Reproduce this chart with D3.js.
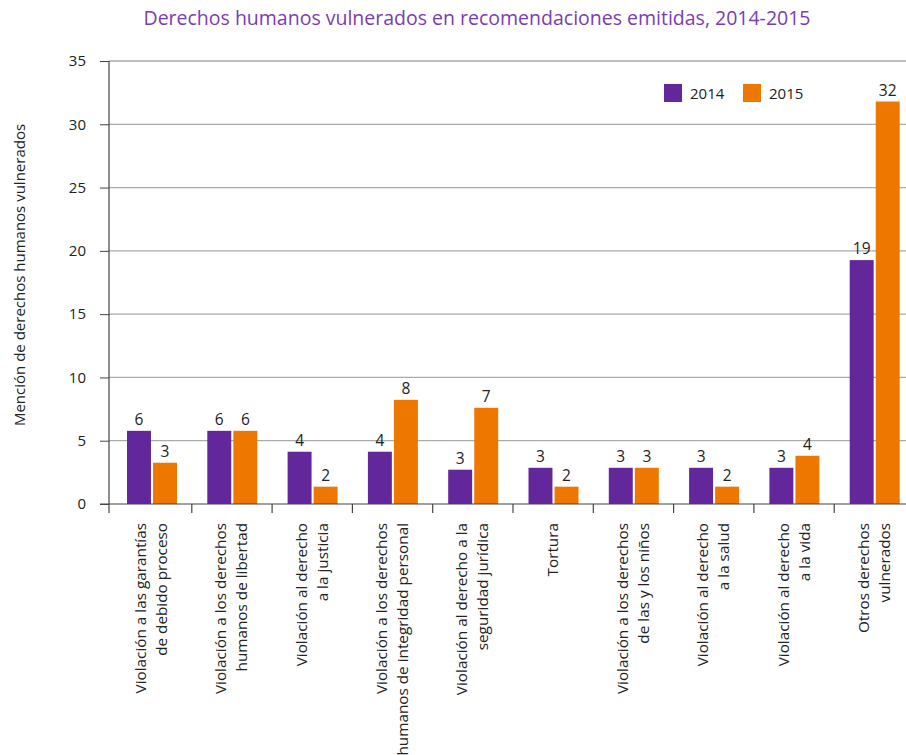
<!DOCTYPE html>
<html>
<head>
<meta charset="utf-8">
<script src="https://cdn.jsdelivr.net/npm/d3@7"></script>
<style>
  body { margin: 0; background: #fff; }
  text { font-family: "Open Sans", "DejaVu Sans", sans-serif; fill: #222; }
</style>
</head>
<body>
<script>
// categorías (líneas de la etiqueta)
var categories = [
  ["Violación a las garantías", "de debido proceso"],
  ["Violación a los derechos", "humanos de libertad"],
  ["Violación al derecho", "a la justicia"],
  ["Violación a los derechos", "humanos de integridad personal"],
  ["Violación al derecho a la", "seguridad jurídica"],
  ["Tortura"],
  ["Violación a los derechos", "de las y los niños"],
  ["Violación al derecho", "a la salud"],
  ["Violación al derecho", "a la vida"],
  ["Otros derechos", "vulnerados"]
];
var series = ["2014", "2015"];
var values2014 = [5.78, 5.78, 4.13, 4.13, 2.71, 2.86, 2.86, 2.86, 2.86, 19.27];
var values2015 = [3.26, 5.78, 1.37, 8.23, 7.6, 1.37, 2.86, 1.37, 3.81, 31.8];
var labels2014 = ["6", "6", "4", "4", "3", "3", "3", "3", "3", "19"];
var labels2015 = ["3", "6", "2", "8", "7", "2", "3", "2", "4", "32"];
var yTicks = [0, 5, 10, 15, 20, 25, 30, 35];

var colors = { "2014": "#62279b", "2015": "#ee7700" };

var svg = d3.select("body").append("svg").attr("width", 906).attr("height", 755);

var x0 = d3.scaleBand()
      .domain(d3.range(categories.length))
      .range([111.5, 914.5]);

var x1 = d3.scaleBand()
      .domain(series)
      .range([15.5, 65.5])
      .paddingInner(0.08);

var y = d3.scaleLinear().domain([0, 35]).range([504, 61]);

// título
svg.append("text")
      .attr("x", 477).attr("y", 25)
      .attr("text-anchor", "middle")
      .attr("font-size", "19.5px")
      .style("fill", "#7a3cb4")
      .text("Derechos humanos vulnerados en recomendaciones emitidas, 2014-2015");

// líneas de la cuadrícula
svg.selectAll("line.grid")
      .data(yTicks.filter(function (d) { return d > 0; }))
      .enter().append("line")
      .attr("class", "grid")
      .attr("x1", 109).attr("x2", 906)
      .attr("y1", function (d) { return y(d); })
      .attr("y2", function (d) { return y(d); })
      .attr("stroke", "#aaa")
      .attr("stroke-width", 1.3);

// eje y
var yAxis = svg.append("g")
      .attr("transform", "translate(109,0)")
      .call(d3.axisLeft(y).tickValues(yTicks).tickSize(9).tickPadding(14));
yAxis.select(".domain").remove();
yAxis.selectAll(".tick line").attr("stroke", "#444");
yAxis.selectAll(".tick text").attr("font-size", "15px").style("fill", "#222")
      .attr("font-family", "'Open Sans', sans-serif");
svg.append("line")
      .attr("x1", 109).attr("x2", 109).attr("y1", 61).attr("y2", 513)
      .attr("stroke", "#444").attr("stroke-width", 1.2);

// barras
var groups = svg.selectAll("g.cat")
      .data(categories)
      .enter().append("g")
      .attr("class", "cat")
      .attr("transform", function (d, i) { return "translate(" + x0(i) + ",0)"; });

function pairs(d, i) {
  return [
    { s: "2014", v: values2014[i], l: labels2014[i] },
    { s: "2015", v: values2015[i], l: labels2015[i] }
  ];
}

groups.selectAll("rect")
      .data(pairs)
      .enter().append("rect")
      .attr("x", function (d) { return x1(d.s); })
      .attr("y", function (d) { return y(d.v); })
      .attr("width", x1.bandwidth())
      .attr("height", function (d) { return y(0) - y(d.v); })
      .attr("fill", function (d) { return colors[d.s]; });

groups.selectAll("text.val")
      .data(pairs)
      .enter().append("text")
      .attr("class", "val")
      .attr("x", function (d) { return x1(d.s) + x1.bandwidth() / 2; })
      .attr("y", function (d) { return y(d.v) - 6; })
      .attr("text-anchor", "middle")
      .attr("font-size", "15.5px")
      .text(function (d) { return d.l; });

// eje x
var xAxis = svg.append("g")
      .attr("transform", "translate(0,504)")
      .call(d3.axisBottom(x0).tickValues([]).tickSizeOuter(0));
xAxis.select(".domain").attr("stroke", "#444").attr("stroke-width", 1.2)
      .attr("d", "M100,0H906");

svg.selectAll("line.xtick")
      .data(d3.range(1, categories.length))
      .enter().append("line")
      .attr("class", "xtick")
      .attr("x1", function (d) { return x0(d); })
      .attr("x2", function (d) { return x0(d); })
      .attr("y1", 504).attr("y2", 513)
      .attr("stroke", "#444").attr("stroke-width", 1.2);

// etiquetas de categorías
categories.forEach(function (lines, i) {
  var cx = x0(i) + x0.bandwidth() / 2;
  var n = lines.length;
  lines.forEach(function (t, j) {
    var lx = cx + (j - (n - 1) / 2) * 21 + 5;
    svg.append("text")
      .attr("transform", "translate(" + lx + ",523) rotate(-90)")
      .attr("text-anchor", "end")
      .attr("font-size", "15.3px")
      .text(t);
  });
});

// título eje y
svg.append("text")
      .attr("transform", "translate(25,275) rotate(-90)")
      .attr("text-anchor", "middle")
      .attr("font-size", "15px")
      .text("Mención de derechos humanos vulnerados");

// leyenda
var legend = svg.selectAll("g.legend")
      .data(series)
      .enter().append("g")
      .attr("class", "legend")
      .attr("transform", function (d, i) { return "translate(" + (664 + i * 79) + ",84)"; });
legend.append("rect")
      .attr("width", 18).attr("height", 18)
      .attr("fill", function (d) { return colors[d]; });
legend.append("text")
      .attr("x", 26).attr("y", 15)
      .attr("font-size", "15px")
      .text(function (d) { return d; });
</script>
</body>
</html>
